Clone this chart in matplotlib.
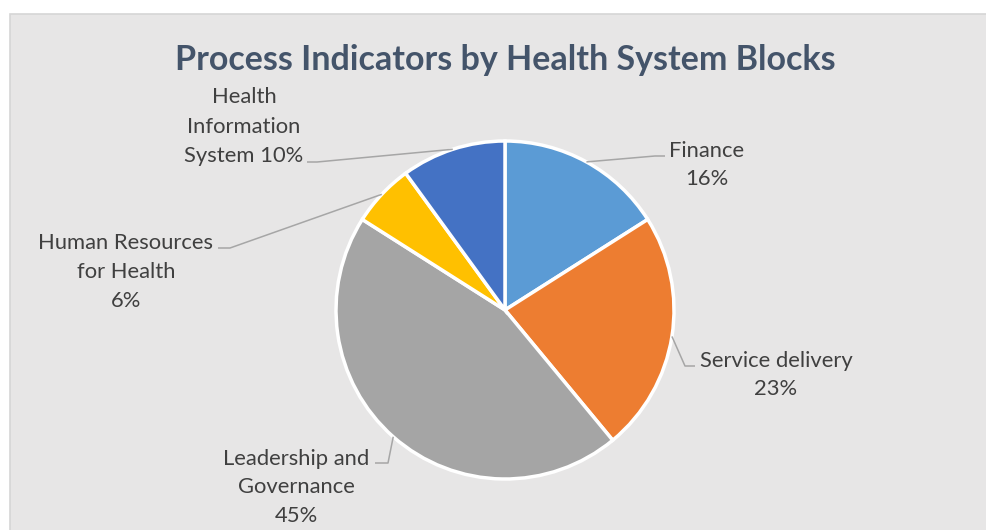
import matplotlib
matplotlib.use("Agg")
import matplotlib.pyplot as plt
from matplotlib.patches import Rectangle
import numpy as np

# ---- data ----
categories = ["Finance", "Service delivery", "Leadership and Governance",
              "Human Resources for Health", "Health Information System"]
values = [16, 23, 45, 6, 10]
label_lines = [["Finance", "16%"],
               ["Service delivery", "23%"],
               ["Leadership and", "Governance", "45%"],
               ["Human Resources", "for Health", "6%"],
               ["Health", "Information", "System 10%"]]
colors = ["#5b9bd5", "#ed7d31", "#a5a5a5", "#ffc000", "#4472c4"]
title = "Process Indicators by Health System Blocks"

# ---- layout (pixel coordinates, y measured from top) ----
W, H = 987, 530
cx, cy, R = 505, 310, 169
label_x = [707, 776, 296, 126, 244]
label_baselines = [[157, 185], [367, 395], [465, 493, 522], [249, 278, 307], [103, 133, 162]]
elbows = [[(655, 156), (665, 156)],
          [(685, 366), (695, 366)],
          [(388, 463), (375, 463)],
          [(230, 248), (218, 248)],
          [(317, 162), (307, 162)]]

FONT = ["Lato", "DejaVu Sans"]

def Y(y):
    return H - y

fig = plt.figure(figsize=(W / 100, H / 100), dpi=100)
fig.patch.set_facecolor("white")
ax = fig.add_axes([0, 0, 1, 1])

ax.add_patch(Rectangle((9.5, -5), 1000, Y(13.5) + 5, facecolor="#e7e6e6",
                       edgecolor="#d6d6d6", linewidth=1.2, zorder=0))

wedges, _ = ax.pie(values, colors=colors, startangle=90, counterclock=False,
                   center=(cx, Y(cy)), radius=R,
                   wedgeprops=dict(edgecolor="white", linewidth=2.5, zorder=2))

ax.set_xlim(0, W)
ax.set_ylim(0, H)
ax.set_aspect("auto")
ax.axis("off")

total = sum(values)
cum = 0
for i, v in enumerate(values):
    mid = (cum + v / 2) / total * 2 * np.pi
    cum += v
    px = cx + R * np.sin(mid)
    py = cy - R * np.cos(mid)
    pts = [(px, py)] + elbows[i]
    ax.plot([p[0] for p in pts], [Y(p[1]) for p in pts], color="#a6a6a6",
            linewidth=1.1, zorder=3, solid_capstyle="butt")
    for line, b in zip(label_lines[i], label_baselines[i]):
        ax.text(label_x[i], Y(b), line, ha="center", va="baseline",
                fontsize=15.8, color="#404040", family=FONT)

ax.text(505.5, Y(70), title, ha="center", va="baseline", fontsize=24.5,
        fontweight="bold", color="#44546a", family=FONT)

fig.savefig("out.png", dpi=100, facecolor="white")
